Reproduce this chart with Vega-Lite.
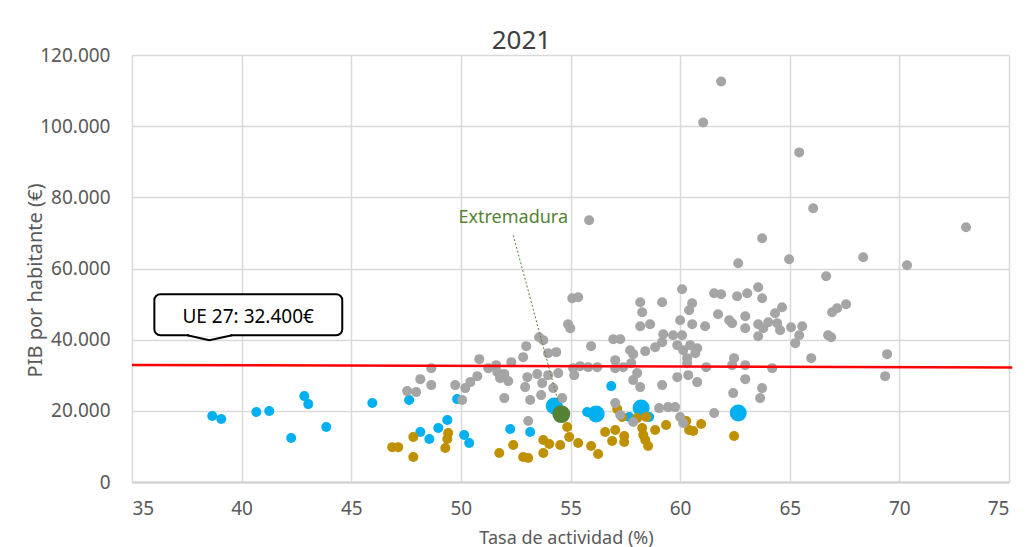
{
  "$schema": "https://vega.github.io/schema/vega-lite/v6.json",
  "width": 877,
  "height": 427,
  "autosize": {"type": "none"},
  "padding": {"left": 132, "top": 55, "right": 20, "bottom": 65},
  "background": "white",
  "title": {"text": "2021", "fontSize": 26, "font": "Noto Sans", "fontWeight": "normal", "color": "#404040", "anchor": "middle", "frame": "group", "dx": -49, "offset": -8},
  "config": {
    "view": {"stroke": null},
    "axis": {"labelFont": "Noto Sans", "labelFontSize": 19, "labelColor": "#595959", "titleFont": "Noto Sans", "titleFontSize": 18, "titleFontWeight": "normal", "titleColor": "#595959", "gridColor": "#D9D9D9", "gridWidth": 1.5, "ticks": false, "domainColor": "#D0D0D0", "domainWidth": 2}
  },
  "datasets": {
    "pts": [
      {"x": 54.26, "y": 21330, "g": "blueBig"},
      {"x": 56.17, "y": 19090, "g": "blueBig"},
      {"x": 58.22, "y": 20770, "g": "blueBig"},
      {"x": 62.65, "y": 19370, "g": "blueBig"},
      {"x": 38.66, "y": 18530, "g": "blue"},
      {"x": 39.07, "y": 17680, "g": "blue"},
      {"x": 40.67, "y": 19650, "g": "blue"},
      {"x": 41.26, "y": 19930, "g": "blue"},
      {"x": 42.86, "y": 24140, "g": "blue"},
      {"x": 43.04, "y": 21890, "g": "blue"},
      {"x": 42.26, "y": 12350, "g": "blue"},
      {"x": 43.86, "y": 15440, "g": "blue"},
      {"x": 45.96, "y": 22180, "g": "blue"},
      {"x": 47.64, "y": 23020, "g": "blue"},
      {"x": 49.83, "y": 23300, "g": "blue"},
      {"x": 49.38, "y": 17400, "g": "blue"},
      {"x": 48.97, "y": 15160, "g": "blue"},
      {"x": 48.15, "y": 14040, "g": "blue"},
      {"x": 48.56, "y": 12070, "g": "blue"},
      {"x": 50.15, "y": 13190, "g": "blue"},
      {"x": 50.38, "y": 10950, "g": "blue"},
      {"x": 52.25, "y": 14880, "g": "blue"},
      {"x": 53.16, "y": 14040, "g": "blue"},
      {"x": 56.86, "y": 26950, "g": "blue"},
      {"x": 55.76, "y": 19650, "g": "blue"},
      {"x": 57.68, "y": 18250, "g": "blue"},
      {"x": 58.59, "y": 18250, "g": "blue"},
      {"x": 46.87, "y": 9800, "g": "gold"},
      {"x": 47.14, "y": 9800, "g": "gold"},
      {"x": 47.83, "y": 12630, "g": "gold"},
      {"x": 47.83, "y": 7020, "g": "gold"},
      {"x": 49.42, "y": 13750, "g": "gold"},
      {"x": 49.38, "y": 12070, "g": "gold"},
      {"x": 49.29, "y": 9540, "g": "gold"},
      {"x": 51.75, "y": 8140, "g": "gold"},
      {"x": 52.39, "y": 10390, "g": "gold"},
      {"x": 52.84, "y": 7020, "g": "gold"},
      {"x": 53.07, "y": 6740, "g": "gold"},
      {"x": 53.76, "y": 11790, "g": "gold"},
      {"x": 54.03, "y": 10670, "g": "gold"},
      {"x": 53.76, "y": 8140, "g": "gold"},
      {"x": 54.53, "y": 10390, "g": "gold"},
      {"x": 54.85, "y": 15440, "g": "gold"},
      {"x": 54.94, "y": 12630, "g": "gold"},
      {"x": 55.35, "y": 10950, "g": "gold"},
      {"x": 55.94, "y": 10110, "g": "gold"},
      {"x": 56.26, "y": 7860, "g": "gold"},
      {"x": 56.58, "y": 14040, "g": "gold"},
      {"x": 57.04, "y": 14600, "g": "gold"},
      {"x": 56.9, "y": 11510, "g": "gold"},
      {"x": 57.45, "y": 12910, "g": "gold"},
      {"x": 57.45, "y": 11230, "g": "gold"},
      {"x": 57.13, "y": 20490, "g": "gold"},
      {"x": 57.36, "y": 18250, "g": "gold"},
      {"x": 58.04, "y": 17960, "g": "gold"},
      {"x": 58.45, "y": 18250, "g": "gold"},
      {"x": 58.27, "y": 15160, "g": "gold"},
      {"x": 58.32, "y": 13190, "g": "gold"},
      {"x": 58.41, "y": 11790, "g": "gold"},
      {"x": 58.54, "y": 10110, "g": "gold"},
      {"x": 58.86, "y": 14600, "g": "gold"},
      {"x": 59.36, "y": 16000, "g": "gold"},
      {"x": 60.28, "y": 17120, "g": "gold"},
      {"x": 60.41, "y": 14600, "g": "gold"},
      {"x": 60.6, "y": 14320, "g": "gold"},
      {"x": 60.96, "y": 16280, "g": "gold"},
      {"x": 62.46, "y": 12910, "g": "gold"},
      {"x": 47.55, "y": 25540, "g": "grey"},
      {"x": 47.96, "y": 25260, "g": "grey"},
      {"x": 48.15, "y": 28910, "g": "grey"},
      {"x": 48.65, "y": 32000, "g": "grey"},
      {"x": 48.65, "y": 27230, "g": "grey"},
      {"x": 49.74, "y": 27230, "g": "grey"},
      {"x": 50.06, "y": 23020, "g": "grey"},
      {"x": 50.2, "y": 26390, "g": "grey"},
      {"x": 50.43, "y": 28070, "g": "grey"},
      {"x": 50.75, "y": 29750, "g": "grey"},
      {"x": 50.84, "y": 34530, "g": "grey"},
      {"x": 51.25, "y": 32000, "g": "grey"},
      {"x": 51.61, "y": 32840, "g": "grey"},
      {"x": 51.66, "y": 30880, "g": "grey"},
      {"x": 51.79, "y": 29190, "g": "grey"},
      {"x": 51.98, "y": 30320, "g": "grey"},
      {"x": 52.16, "y": 28350, "g": "grey"},
      {"x": 52.3, "y": 33680, "g": "grey"},
      {"x": 51.98, "y": 23580, "g": "grey"},
      {"x": 52.84, "y": 35090, "g": "grey"},
      {"x": 52.98, "y": 38180, "g": "grey"},
      {"x": 53.03, "y": 29470, "g": "grey"},
      {"x": 52.93, "y": 26670, "g": "grey"},
      {"x": 53.16, "y": 23020, "g": "grey"},
      {"x": 53.07, "y": 17120, "g": "grey"},
      {"x": 53.48, "y": 30320, "g": "grey"},
      {"x": 53.57, "y": 40700, "g": "grey"},
      {"x": 53.76, "y": 39860, "g": "grey"},
      {"x": 53.71, "y": 27790, "g": "grey"},
      {"x": 53.66, "y": 24420, "g": "grey"},
      {"x": 53.98, "y": 36210, "g": "grey"},
      {"x": 53.98, "y": 30030, "g": "grey"},
      {"x": 54.21, "y": 26390, "g": "grey"},
      {"x": 54.35, "y": 36490, "g": "grey"},
      {"x": 54.44, "y": 30600, "g": "grey"},
      {"x": 54.62, "y": 23580, "g": "grey"},
      {"x": 54.89, "y": 44350, "g": "grey"},
      {"x": 54.99, "y": 43230, "g": "grey"},
      {"x": 55.08, "y": 51650, "g": "grey"},
      {"x": 55.35, "y": 51930, "g": "grey"},
      {"x": 55.85, "y": 73540, "g": "grey"},
      {"x": 55.94, "y": 38180, "g": "grey"},
      {"x": 55.12, "y": 32000, "g": "grey"},
      {"x": 55.44, "y": 32560, "g": "grey"},
      {"x": 55.81, "y": 32280, "g": "grey"},
      {"x": 56.22, "y": 32280, "g": "grey"},
      {"x": 55.17, "y": 30030, "g": "grey"},
      {"x": 56.95, "y": 40140, "g": "grey"},
      {"x": 57.27, "y": 40140, "g": "grey"},
      {"x": 57.04, "y": 34250, "g": "grey"},
      {"x": 57.04, "y": 32000, "g": "grey"},
      {"x": 57.4, "y": 32280, "g": "grey"},
      {"x": 57.72, "y": 37050, "g": "grey"},
      {"x": 57.86, "y": 35930, "g": "grey"},
      {"x": 57.77, "y": 33400, "g": "grey"},
      {"x": 58.04, "y": 30600, "g": "grey"},
      {"x": 57.86, "y": 28630, "g": "grey"},
      {"x": 58.18, "y": 26670, "g": "grey"},
      {"x": 57.04, "y": 22180, "g": "grey"},
      {"x": 57.27, "y": 18810, "g": "grey"},
      {"x": 57.86, "y": 16840, "g": "grey"},
      {"x": 58.18, "y": 50530, "g": "grey"},
      {"x": 58.27, "y": 47720, "g": "grey"},
      {"x": 58.18, "y": 43790, "g": "grey"},
      {"x": 58.63, "y": 44350, "g": "grey"},
      {"x": 58.41, "y": 36770, "g": "grey"},
      {"x": 58.86, "y": 37890, "g": "grey"},
      {"x": 59.18, "y": 39300, "g": "grey"},
      {"x": 59.23, "y": 41540, "g": "grey"},
      {"x": 59.68, "y": 41260, "g": "grey"},
      {"x": 60.09, "y": 41260, "g": "grey"},
      {"x": 59.87, "y": 38460, "g": "grey"},
      {"x": 60.14, "y": 37050, "g": "grey"},
      {"x": 60.32, "y": 34810, "g": "grey"},
      {"x": 60.46, "y": 38460, "g": "grey"},
      {"x": 60.78, "y": 37610, "g": "grey"},
      {"x": 60.69, "y": 36210, "g": "grey"},
      {"x": 60.32, "y": 33400, "g": "grey"},
      {"x": 59.18, "y": 50530, "g": "grey"},
      {"x": 60.09, "y": 54180, "g": "grey"},
      {"x": 60.55, "y": 50250, "g": "grey"},
      {"x": 60.41, "y": 48280, "g": "grey"},
      {"x": 60.0, "y": 45470, "g": "grey"},
      {"x": 60.55, "y": 44350, "g": "grey"},
      {"x": 61.14, "y": 43790, "g": "grey"},
      {"x": 61.73, "y": 47160, "g": "grey"},
      {"x": 62.24, "y": 45470, "g": "grey"},
      {"x": 62.37, "y": 44630, "g": "grey"},
      {"x": 62.97, "y": 46600, "g": "grey"},
      {"x": 62.97, "y": 43230, "g": "grey"},
      {"x": 63.56, "y": 44350, "g": "grey"},
      {"x": 63.56, "y": 40980, "g": "grey"},
      {"x": 63.79, "y": 43230, "g": "grey"},
      {"x": 64.02, "y": 44910, "g": "grey"},
      {"x": 64.33, "y": 47440, "g": "grey"},
      {"x": 64.65, "y": 49120, "g": "grey"},
      {"x": 64.43, "y": 44630, "g": "grey"},
      {"x": 64.56, "y": 42670, "g": "grey"},
      {"x": 65.06, "y": 43510, "g": "grey"},
      {"x": 65.57, "y": 43790, "g": "grey"},
      {"x": 65.43, "y": 41260, "g": "grey"},
      {"x": 65.25, "y": 39020, "g": "grey"},
      {"x": 65.98, "y": 34810, "g": "grey"},
      {"x": 66.93, "y": 47720, "g": "grey"},
      {"x": 67.16, "y": 48840, "g": "grey"},
      {"x": 67.57, "y": 49960, "g": "grey"},
      {"x": 66.75, "y": 41260, "g": "grey"},
      {"x": 66.89, "y": 40700, "g": "grey"},
      {"x": 61.55, "y": 53050, "g": "grey"},
      {"x": 61.87, "y": 52770, "g": "grey"},
      {"x": 62.6, "y": 52210, "g": "grey"},
      {"x": 63.06, "y": 53050, "g": "grey"},
      {"x": 63.56, "y": 54740, "g": "grey"},
      {"x": 63.74, "y": 51650, "g": "grey"},
      {"x": 61.19, "y": 32280, "g": "grey"},
      {"x": 62.46, "y": 34810, "g": "grey"},
      {"x": 62.37, "y": 32840, "g": "grey"},
      {"x": 62.97, "y": 32840, "g": "grey"},
      {"x": 64.2, "y": 32000, "g": "grey"},
      {"x": 59.18, "y": 27230, "g": "grey"},
      {"x": 59.87, "y": 29470, "g": "grey"},
      {"x": 60.37, "y": 30030, "g": "grey"},
      {"x": 60.78, "y": 28070, "g": "grey"},
      {"x": 62.97, "y": 28910, "g": "grey"},
      {"x": 63.74, "y": 26390, "g": "grey"},
      {"x": 63.65, "y": 23580, "g": "grey"},
      {"x": 62.42, "y": 24980, "g": "grey"},
      {"x": 59.04, "y": 20770, "g": "grey"},
      {"x": 59.45, "y": 21050, "g": "grey"},
      {"x": 59.77, "y": 21050, "g": "grey"},
      {"x": 60.0, "y": 18250, "g": "grey"},
      {"x": 60.14, "y": 16560, "g": "grey"},
      {"x": 61.55, "y": 19370, "g": "grey"},
      {"x": 62.65, "y": 61470, "g": "grey"},
      {"x": 63.74, "y": 68490, "g": "grey"},
      {"x": 64.97, "y": 62600, "g": "grey"},
      {"x": 68.35, "y": 63160, "g": "grey"},
      {"x": 70.35, "y": 60910, "g": "grey"},
      {"x": 66.66, "y": 57820, "g": "grey"},
      {"x": 66.07, "y": 76910, "g": "grey"},
      {"x": 73.04, "y": 71580, "g": "grey"},
      {"x": 61.87, "y": 112560, "g": "grey"},
      {"x": 61.05, "y": 101050, "g": "grey"},
      {"x": 65.43, "y": 92630, "g": "grey"},
      {"x": 69.44, "y": 35930, "g": "grey"},
      {"x": 69.35, "y": 29750, "g": "grey"},
      {"x": 54.58, "y": 19090, "g": "green"}
    ],
    "ref": [{"x": 35, "y": 32900, "x2": 75.15, "y2": 32200}],
    "box": [{"x": 36.02, "x2": 44.59, "y": 52770, "y2": 41260, "xm": 40.3, "ym": 46500, "label": "UE 27: 32.400€"}],
    "gap": [{"x": 37.6, "x2": 39.5, "y": 41260}],
    "chev": [{"i": 1, "x": 37.52, "y": 41260}, {"i": 2, "x": 38.53, "y": 39860}, {"i": 3, "x": 39.57, "y": 41260}],
    "lead": [{"i": 1, "x": 52.39, "y": 69330}, {"i": 2, "x": 54.44, "y": 22460}],
    "lbl": [{"x": 52.39, "y": 74100, "label": "Extremadura"}]
  },
  "encoding": {
    "x": {"field": "x", "type": "quantitative", "scale": {"domain": [35, 75], "nice": false, "zero": false},
      "axis": {"values": [35, 40, 45, 50, 55, 60, 65, 70, 75], "title": "Tasa de actividad (%)", "labelPadding": 17, "titleY": 56, "titleBaseline": "middle", "titleX": 434}},
    "y": {"field": "y", "type": "quantitative", "scale": {"domain": [0, 120000], "nice": false},
      "axis": {"values": [0, 20000, 40000, 60000, 80000, 100000, 120000], "title": "PIB  por habitante (€)", "titleFontSize": 20, "labelPadding": 22, "labelExpr": "replace(format(datum.value, ','), ',', '.')", "titleX": -97, "titleY": 225, "titleBaseline": "middle", "titleAngle": -90, "domain": false}}
  },
  "layer": [
    {"data": {"name": "pts"}, "transform": [{"filter": "datum.g == 'blueBig'"}], "mark": {"type": "point", "shape": "circle", "filled": true, "opacity": 1, "size": 290, "color": "#00B0F0"}},
    {"data": {"name": "pts"}, "transform": [{"filter": "datum.g == 'blue' || datum.g == 'gold' || datum.g == 'grey'"}],
      "mark": {"type": "point", "shape": "circle", "filled": true, "opacity": 1, "size": 100},
      "encoding": {"color": {"field": "g", "type": "nominal", "scale": {"domain": ["blue", "gold", "grey"], "range": ["#00B0F0", "#BF9000", "#A5A5A5"]}, "legend": null}}},
    {"data": {"name": "pts"}, "transform": [{"filter": "datum.g == 'green'"}], "mark": {"type": "point", "shape": "circle", "filled": true, "opacity": 1, "size": 320, "color": "#548235"}},
    {"data": {"name": "ref"}, "mark": {"type": "rule", "color": "#FF0000", "strokeWidth": 2.5},
      "encoding": {"x2": {"field": "x2"}, "y2": {"field": "y2"}}},
    {"data": {"name": "lead"}, "mark": {"type": "line", "color": "#548235", "strokeWidth": 1, "strokeDash": [2, 2]},
      "encoding": {"order": {"field": "i", "type": "quantitative"}}},
    {"data": {"name": "lbl"}, "mark": {"type": "text", "font": "Noto Sans", "fontSize": 18, "color": "#548235"},
      "encoding": {"text": {"field": "label"}}},
    {"data": {"name": "box"}, "mark": {"type": "rect", "fill": "white", "stroke": "black", "strokeWidth": 2, "cornerRadius": 6},
      "encoding": {"x2": {"field": "x2"}, "y2": {"field": "y2"}}},
    {"data": {"name": "gap"}, "mark": {"type": "rule", "color": "white", "strokeWidth": 3},
      "encoding": {"x2": {"field": "x2"}}},
    {"data": {"name": "chev"}, "mark": {"type": "line", "color": "black", "strokeWidth": 2},
      "encoding": {"order": {"field": "i", "type": "quantitative"}}},
    {"data": {"name": "box"}, "mark": {"type": "text", "font": "Noto Sans", "fontSize": 19, "color": "black"},
      "encoding": {"x": {"field": "xm", "type": "quantitative"}, "y": {"field": "ym", "type": "quantitative"}, "text": {"field": "label"}}}
  ]
}
